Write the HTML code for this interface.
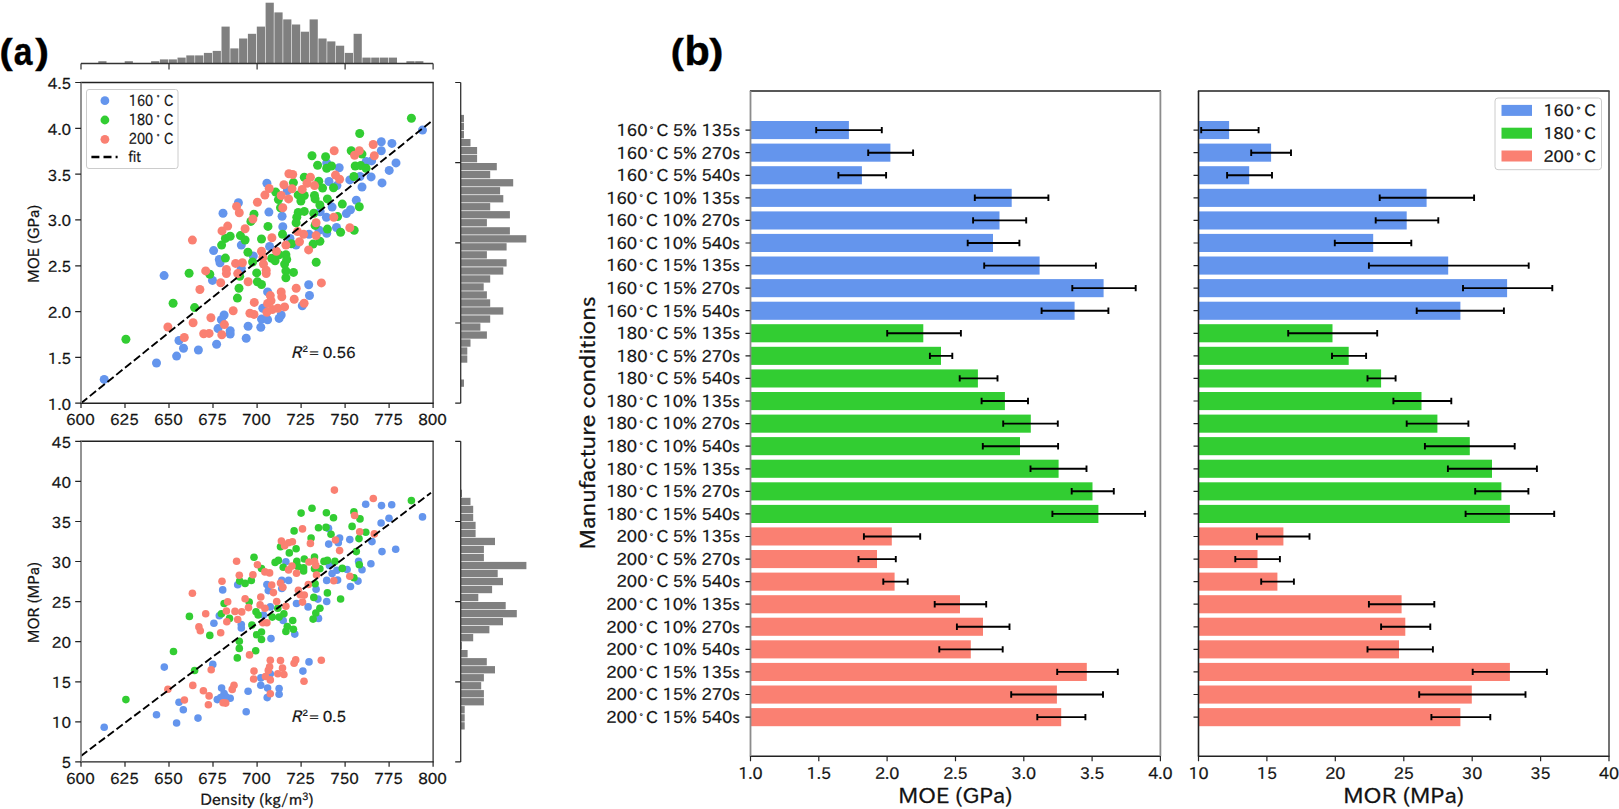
<!DOCTYPE html>
<html><head><meta charset="utf-8"><title>Figure</title>
<style>html,body{margin:0;padding:0;background:#fff;overflow:hidden}svg{display:block}svg text{stroke:#111;stroke-width:0.28px}svg .lbl text{stroke:#000;stroke-width:0.4px}</style></head>
<body><svg width="1619" height="809" viewBox="0 0 1619 809">
<rect width="1619" height="809" fill="#fff"/>
<g fill="#808080">
<rect x="98.3" y="61.2" width="8.2" height="2.3"/>
<rect x="124.7" y="61.2" width="8.2" height="2.3"/>
<rect x="151.1" y="61.2" width="8.2" height="2.3"/>
<rect x="159.9" y="59.4" width="8.2" height="4.1"/>
<rect x="168.7" y="59.4" width="8.2" height="4.1"/>
<rect x="177.5" y="57.6" width="8.2" height="5.9"/>
<rect x="186.3" y="55.4" width="8.2" height="8.1"/>
<rect x="195.1" y="55.4" width="8.2" height="8.1"/>
<rect x="203.9" y="52.9" width="8.2" height="10.6"/>
<rect x="212.7" y="50.9" width="8.2" height="12.6"/>
<rect x="221.5" y="26.6" width="8.2" height="36.9"/>
<rect x="230.3" y="48.4" width="8.2" height="15.1"/>
<rect x="239.1" y="38.5" width="8.2" height="25"/>
<rect x="247.9" y="33.8" width="8.2" height="29.7"/>
<rect x="256.8" y="26.6" width="8.2" height="36.9"/>
<rect x="265.6" y="2.7" width="8.2" height="60.8"/>
<rect x="274.4" y="12.4" width="8.2" height="51.1"/>
<rect x="283.2" y="19.4" width="8.2" height="44.1"/>
<rect x="292" y="24.5" width="8.2" height="39"/>
<rect x="300.8" y="31.7" width="8.2" height="31.8"/>
<rect x="309.6" y="19.4" width="8.2" height="44.1"/>
<rect x="318.4" y="38.5" width="8.2" height="25"/>
<rect x="327.2" y="41.4" width="8.2" height="22.1"/>
<rect x="336" y="45.7" width="8.2" height="17.8"/>
<rect x="344.8" y="52.9" width="8.2" height="10.6"/>
<rect x="353.6" y="33.8" width="8.2" height="29.7"/>
<rect x="362.4" y="57.6" width="8.2" height="5.9"/>
<rect x="371.2" y="57.6" width="8.2" height="5.9"/>
<rect x="380" y="57.6" width="8.2" height="5.9"/>
<rect x="388.8" y="57.6" width="8.2" height="5.9"/>
<rect x="406.4" y="61.2" width="8.2" height="2.3"/>
<rect x="415.2" y="61.2" width="8.2" height="2.3"/>
</g>
<path d="M81 63.5H433.1" stroke="#333" stroke-width="1.3"/>
<path d="M81 63.5v6M169 63.5v6M257.1 63.5v6M345.1 63.5v6M433.1 63.5v6" stroke="#333" stroke-width="1.2"/>
<g fill="#808080">
<rect x="460.7" y="114.9" width="3.3" height="7.3"/>
<rect x="460.7" y="122.9" width="3.3" height="7.3"/>
<rect x="460.7" y="131" width="3.3" height="7.3"/>
<rect x="460.7" y="139" width="9.8" height="7.3"/>
<rect x="460.7" y="147" width="16.4" height="7.3"/>
<rect x="460.7" y="155" width="16.4" height="7.3"/>
<rect x="460.7" y="163" width="36.1" height="7.3"/>
<rect x="460.7" y="171" width="29.5" height="7.3"/>
<rect x="460.7" y="179.1" width="52.5" height="7.3"/>
<rect x="460.7" y="187.1" width="39.4" height="7.3"/>
<rect x="460.7" y="195.1" width="42.6" height="7.3"/>
<rect x="460.7" y="203.1" width="29.5" height="7.3"/>
<rect x="460.7" y="211.1" width="49.2" height="7.3"/>
<rect x="460.7" y="219.1" width="26.2" height="7.3"/>
<rect x="460.7" y="227.2" width="49.2" height="7.3"/>
<rect x="460.7" y="235.2" width="65.6" height="7.3"/>
<rect x="460.7" y="243.2" width="45.9" height="7.3"/>
<rect x="460.7" y="251.2" width="26.2" height="7.3"/>
<rect x="460.7" y="259.2" width="45.9" height="7.3"/>
<rect x="460.7" y="267.3" width="42.6" height="7.3"/>
<rect x="460.7" y="275.3" width="29.5" height="7.3"/>
<rect x="460.7" y="283.3" width="23" height="7.3"/>
<rect x="460.7" y="291.3" width="26.2" height="7.3"/>
<rect x="460.7" y="299.3" width="29.5" height="7.3"/>
<rect x="460.7" y="307.3" width="42.6" height="7.3"/>
<rect x="460.7" y="315.4" width="29.5" height="7.3"/>
<rect x="460.7" y="323.4" width="19.7" height="7.3"/>
<rect x="460.7" y="331.4" width="26.2" height="7.3"/>
<rect x="460.7" y="339.4" width="9.8" height="7.3"/>
<rect x="460.7" y="347.4" width="6.6" height="7.3"/>
<rect x="460.7" y="355.4" width="6.6" height="7.3"/>
<rect x="460.7" y="379.5" width="3.3" height="7.3"/>
</g>
<path d="M460.7 82.5V403.2" stroke="#333" stroke-width="1.3"/>
<path d="M460.7 82.5h-5.5M460.7 162.7h-5.5M460.7 242.8h-5.5M460.7 323h-5.5M460.7 403.2h-5.5" stroke="#222" stroke-width="1.2"/>
<g fill="#808080">
<rect x="460.7" y="489.7" width="1.3" height="7.3"/>
<rect x="460.7" y="497.8" width="9.8" height="7.3"/>
<rect x="460.7" y="505.8" width="12.5" height="7.3"/>
<rect x="460.7" y="513.8" width="12.5" height="7.3"/>
<rect x="460.7" y="521.8" width="14.9" height="7.3"/>
<rect x="460.7" y="529.8" width="14.9" height="7.3"/>
<rect x="460.7" y="537.8" width="34.3" height="7.3"/>
<rect x="460.7" y="545.8" width="23.2" height="7.3"/>
<rect x="460.7" y="553.9" width="23.2" height="7.3"/>
<rect x="460.7" y="561.9" width="65.7" height="7.3"/>
<rect x="460.7" y="569.9" width="37" height="7.3"/>
<rect x="460.7" y="577.9" width="42.3" height="7.3"/>
<rect x="460.7" y="585.9" width="31.4" height="7.3"/>
<rect x="460.7" y="593.9" width="17.6" height="7.3"/>
<rect x="460.7" y="602" width="45" height="7.3"/>
<rect x="460.7" y="610" width="56.1" height="7.3"/>
<rect x="460.7" y="618" width="42.3" height="7.3"/>
<rect x="460.7" y="626" width="28.7" height="7.3"/>
<rect x="460.7" y="634" width="12.5" height="7.3"/>
<rect x="460.7" y="642" width="1.1" height="7.3"/>
<rect x="460.7" y="650" width="6.9" height="7.3"/>
<rect x="460.7" y="658.1" width="26.1" height="7.3"/>
<rect x="460.7" y="666.1" width="34.3" height="7.3"/>
<rect x="460.7" y="674.1" width="23.2" height="7.3"/>
<rect x="460.7" y="682.1" width="20.5" height="7.3"/>
<rect x="460.7" y="690.1" width="23.2" height="7.3"/>
<rect x="460.7" y="698.1" width="23.2" height="7.3"/>
<rect x="460.7" y="706.1" width="4" height="7.3"/>
<rect x="460.7" y="714.2" width="4" height="7.3"/>
<rect x="460.7" y="722.2" width="4" height="7.3"/>
</g>
<path d="M460.7 441.3V761.9" stroke="#333" stroke-width="1.3"/>
<path d="M460.7 441.3h-5.5M460.7 521.5h-5.5M460.7 601.6h-5.5M460.7 681.8h-5.5M460.7 761.9h-5.5" stroke="#222" stroke-width="1.2"/>
<g font-family='"IPAPGothic","Liberation Sans","Noto Sans CJK JP",sans-serif' font-size="15.2" fill="#111">
<clipPath id="c82"><rect x="81.0" y="82.5" width="352.1" height="320.7"/></clipPath>
<g clip-path="url(#c82)">
<g fill="#6495ed">
<circle cx="104.2" cy="379.4" r="4.5"/>
<circle cx="156.5" cy="363" r="4.5"/>
<circle cx="176.6" cy="356.1" r="4.5"/>
<circle cx="183.5" cy="348.3" r="4.5"/>
<circle cx="179" cy="340.5" r="4.5"/>
<circle cx="198.4" cy="350" r="4.5"/>
<circle cx="164.1" cy="275.6" r="4.5"/>
<circle cx="213.6" cy="250.6" r="4.5"/>
<circle cx="223" cy="213.2" r="4.5"/>
<circle cx="238.4" cy="202.7" r="4.5"/>
<circle cx="266.9" cy="183.3" r="4.5"/>
<circle cx="268.9" cy="212.1" r="4.5"/>
<circle cx="282.1" cy="216.2" r="4.5"/>
<circle cx="282.8" cy="226.8" r="4.5"/>
<circle cx="241.3" cy="245.1" r="4.5"/>
<circle cx="269.6" cy="246.5" r="4.5"/>
<circle cx="253.3" cy="256" r="4.5"/>
<circle cx="287.3" cy="190.8" r="4.5"/>
<circle cx="219.3" cy="259.4" r="4.5"/>
<circle cx="381.3" cy="150.7" r="4.5"/>
<circle cx="396" cy="162.9" r="4.5"/>
<circle cx="389.2" cy="170.4" r="4.5"/>
<circle cx="382" cy="182.9" r="4.5"/>
<circle cx="371.1" cy="176.9" r="4.5"/>
<circle cx="366.1" cy="161.6" r="4.5"/>
<circle cx="371.6" cy="160.9" r="4.5"/>
<circle cx="339.2" cy="167.7" r="4.5"/>
<circle cx="326.7" cy="162.9" r="4.5"/>
<circle cx="329" cy="181.5" r="4.5"/>
<circle cx="336.9" cy="185.6" r="4.5"/>
<circle cx="349.8" cy="179.9" r="4.5"/>
<circle cx="360" cy="176.5" r="4.5"/>
<circle cx="362" cy="187" r="4.5"/>
<circle cx="356.3" cy="200.3" r="4.5"/>
<circle cx="332.1" cy="207.1" r="4.5"/>
<circle cx="350.5" cy="209.8" r="4.5"/>
<circle cx="346.4" cy="213.6" r="4.5"/>
<circle cx="320.2" cy="211.8" r="4.5"/>
<circle cx="326.4" cy="217.3" r="4.5"/>
<circle cx="336.5" cy="227.5" r="4.5"/>
<circle cx="326.7" cy="233.2" r="4.5"/>
<circle cx="319.2" cy="230.2" r="4.5"/>
<circle cx="309" cy="234.3" r="4.5"/>
<circle cx="296.1" cy="245.1" r="4.5"/>
<circle cx="290" cy="238.4" r="4.5"/>
<circle cx="422.5" cy="130.1" r="4.5"/>
<circle cx="381.3" cy="141.8" r="4.5"/>
<circle cx="391.9" cy="143.4" r="4.5"/>
<circle cx="216.6" cy="344.3" r="4.5"/>
<circle cx="230.2" cy="334.1" r="4.5"/>
<circle cx="230.2" cy="330.7" r="4.5"/>
<circle cx="218" cy="328.6" r="4.5"/>
<circle cx="224.1" cy="315" r="4.5"/>
<circle cx="221.4" cy="319.8" r="4.5"/>
<circle cx="246.2" cy="338.2" r="4.5"/>
<circle cx="248.1" cy="326.2" r="4.5"/>
<circle cx="260.8" cy="327.3" r="4.5"/>
<circle cx="261.5" cy="319.1" r="4.5"/>
<circle cx="267.6" cy="319.8" r="4.5"/>
<circle cx="279.1" cy="318.4" r="4.5"/>
<circle cx="281.2" cy="315" r="4.5"/>
<circle cx="267.6" cy="291.9" r="4.5"/>
<circle cx="212.5" cy="280.4" r="4.5"/>
<circle cx="220" cy="262.7" r="4.5"/>
<circle cx="241.3" cy="268.2" r="4.5"/>
<circle cx="262.8" cy="308.3" r="4.5"/>
<circle cx="308.7" cy="284.7" r="4.5"/>
<circle cx="309.5" cy="295.5" r="4.5"/>
<circle cx="302.3" cy="305.7" r="4.5"/>
</g>
<g fill="#32cd32">
<circle cx="125.9" cy="339.3" r="4.5"/>
<circle cx="173.1" cy="303.3" r="4.5"/>
<circle cx="225.4" cy="238.4" r="4.5"/>
<circle cx="230.2" cy="236.3" r="4.5"/>
<circle cx="221.6" cy="245.1" r="4.5"/>
<circle cx="240.4" cy="235.6" r="4.5"/>
<circle cx="245.1" cy="240" r="4.5"/>
<circle cx="247.9" cy="252.2" r="4.5"/>
<circle cx="261.5" cy="239" r="4.5"/>
<circle cx="268" cy="226.4" r="4.5"/>
<circle cx="254" cy="214.2" r="4.5"/>
<circle cx="250.9" cy="221.4" r="4.5"/>
<circle cx="275.7" cy="192.1" r="4.5"/>
<circle cx="278.4" cy="199.6" r="4.5"/>
<circle cx="282.5" cy="234.3" r="4.5"/>
<circle cx="225.4" cy="258.1" r="4.5"/>
<circle cx="280.5" cy="207.8" r="4.5"/>
<circle cx="279.1" cy="254.7" r="4.5"/>
<circle cx="285.9" cy="254.7" r="4.5"/>
<circle cx="312" cy="155.7" r="4.5"/>
<circle cx="325.6" cy="156.8" r="4.5"/>
<circle cx="317.6" cy="165.2" r="4.5"/>
<circle cx="326.7" cy="168.3" r="4.5"/>
<circle cx="331.5" cy="166" r="4.5"/>
<circle cx="304.3" cy="177.2" r="4.5"/>
<circle cx="318.8" cy="181.3" r="4.5"/>
<circle cx="293.4" cy="182.6" r="4.5"/>
<circle cx="322.6" cy="188.1" r="4.5"/>
<circle cx="333.5" cy="187.8" r="4.5"/>
<circle cx="298.2" cy="194.9" r="4.5"/>
<circle cx="304.3" cy="195.5" r="4.5"/>
<circle cx="300.9" cy="201" r="4.5"/>
<circle cx="314.5" cy="195.5" r="4.5"/>
<circle cx="315.1" cy="198.9" r="4.5"/>
<circle cx="319.9" cy="205" r="4.5"/>
<circle cx="327.4" cy="198.9" r="4.5"/>
<circle cx="342.3" cy="204.1" r="4.5"/>
<circle cx="359.3" cy="206.8" r="4.5"/>
<circle cx="298.2" cy="212.5" r="4.5"/>
<circle cx="304.3" cy="211.4" r="4.5"/>
<circle cx="296.8" cy="217.3" r="4.5"/>
<circle cx="296.1" cy="222.7" r="4.5"/>
<circle cx="313.8" cy="213.2" r="4.5"/>
<circle cx="315.1" cy="225.4" r="4.5"/>
<circle cx="327.4" cy="229.1" r="4.5"/>
<circle cx="340.6" cy="232.2" r="4.5"/>
<circle cx="354.2" cy="230.2" r="4.5"/>
<circle cx="337.6" cy="216.6" r="4.5"/>
<circle cx="319.9" cy="241.3" r="4.5"/>
<circle cx="313.1" cy="244.1" r="4.5"/>
<circle cx="353.9" cy="176.5" r="4.5"/>
<circle cx="355.2" cy="166" r="4.5"/>
<circle cx="360.7" cy="165.6" r="4.5"/>
<circle cx="366.1" cy="168.3" r="4.5"/>
<circle cx="362" cy="154.1" r="4.5"/>
<circle cx="351.2" cy="150.7" r="4.5"/>
<circle cx="291.4" cy="243.8" r="4.5"/>
<circle cx="411.4" cy="118.3" r="4.5"/>
<circle cx="359.7" cy="133.5" r="4.5"/>
<circle cx="189.1" cy="273.2" r="4.5"/>
<circle cx="194.6" cy="307.6" r="4.5"/>
<circle cx="209.8" cy="274.3" r="4.5"/>
<circle cx="239" cy="288.3" r="4.5"/>
<circle cx="237.4" cy="298.1" r="4.5"/>
<circle cx="239.7" cy="276.3" r="4.5"/>
<circle cx="256.7" cy="272.9" r="4.5"/>
<circle cx="257.4" cy="281.7" r="4.5"/>
<circle cx="261.5" cy="284.5" r="4.5"/>
<circle cx="252.6" cy="262" r="4.5"/>
<circle cx="285.9" cy="277.7" r="4.5"/>
<circle cx="285.9" cy="270.9" r="4.5"/>
<circle cx="284.6" cy="264.1" r="4.5"/>
<circle cx="275.1" cy="260.7" r="4.5"/>
<circle cx="316.2" cy="262.2" r="4.5"/>
<circle cx="293.5" cy="272.4" r="4.5"/>
<circle cx="286.7" cy="259.5" r="4.5"/>
<circle cx="271.7" cy="258.2" r="4.5"/>
</g>
<g fill="#fa8072">
<circle cx="167.9" cy="327" r="4.5"/>
<circle cx="192.4" cy="240.1" r="4.5"/>
<circle cx="222" cy="230.9" r="4.5"/>
<circle cx="227.7" cy="226.1" r="4.5"/>
<circle cx="245.1" cy="228.8" r="4.5"/>
<circle cx="252.9" cy="219" r="4.5"/>
<circle cx="239.3" cy="212.8" r="4.5"/>
<circle cx="236.6" cy="206.4" r="4.5"/>
<circle cx="257.4" cy="202.3" r="4.5"/>
<circle cx="264.9" cy="195.1" r="4.5"/>
<circle cx="269.2" cy="188.5" r="4.5"/>
<circle cx="281.2" cy="195.5" r="4.5"/>
<circle cx="283.9" cy="184.7" r="4.5"/>
<circle cx="288.9" cy="173.8" r="4.5"/>
<circle cx="282.8" cy="207.8" r="4.5"/>
<circle cx="271.9" cy="237.7" r="4.5"/>
<circle cx="285.9" cy="245.1" r="4.5"/>
<circle cx="276.4" cy="251.3" r="4.5"/>
<circle cx="261.5" cy="251.3" r="4.5"/>
<circle cx="288.6" cy="198.9" r="4.5"/>
<circle cx="334.2" cy="150.7" r="4.5"/>
<circle cx="292.7" cy="174.5" r="4.5"/>
<circle cx="310.4" cy="177.2" r="4.5"/>
<circle cx="307" cy="183.3" r="4.5"/>
<circle cx="314.5" cy="185.6" r="4.5"/>
<circle cx="302.2" cy="189.4" r="4.5"/>
<circle cx="292" cy="188.7" r="4.5"/>
<circle cx="335.5" cy="175.1" r="4.5"/>
<circle cx="339.6" cy="179.2" r="4.5"/>
<circle cx="354.6" cy="155.2" r="4.5"/>
<circle cx="374.3" cy="155.7" r="4.5"/>
<circle cx="359.3" cy="150.7" r="4.5"/>
<circle cx="333.8" cy="217.3" r="4.5"/>
<circle cx="316.1" cy="222.7" r="4.5"/>
<circle cx="316.1" cy="235.6" r="4.5"/>
<circle cx="349.8" cy="227.7" r="4.5"/>
<circle cx="303.6" cy="234.3" r="4.5"/>
<circle cx="297.5" cy="231.6" r="4.5"/>
<circle cx="299.5" cy="241.7" r="4.5"/>
<circle cx="308.6" cy="249.9" r="4.5"/>
<circle cx="373.2" cy="144.5" r="4.5"/>
<circle cx="184.3" cy="337.5" r="4.5"/>
<circle cx="193.1" cy="322.8" r="4.5"/>
<circle cx="203.7" cy="333.8" r="4.5"/>
<circle cx="209.1" cy="333.4" r="4.5"/>
<circle cx="210.9" cy="317.8" r="4.5"/>
<circle cx="221.8" cy="334.8" r="4.5"/>
<circle cx="224.4" cy="324.6" r="4.5"/>
<circle cx="233.2" cy="310.7" r="4.5"/>
<circle cx="249.9" cy="313.3" r="4.5"/>
<circle cx="254" cy="314.4" r="4.5"/>
<circle cx="254.3" cy="302.4" r="4.5"/>
<circle cx="199.9" cy="289.5" r="4.5"/>
<circle cx="205.7" cy="270.9" r="4.5"/>
<circle cx="220.7" cy="282.7" r="4.5"/>
<circle cx="226.4" cy="269.5" r="4.5"/>
<circle cx="226.4" cy="273.6" r="4.5"/>
<circle cx="237.7" cy="273.6" r="4.5"/>
<circle cx="248.1" cy="281.7" r="4.5"/>
<circle cx="235.6" cy="263.4" r="4.5"/>
<circle cx="242.4" cy="262.7" r="4.5"/>
<circle cx="263.5" cy="264.1" r="4.5"/>
<circle cx="266.2" cy="270.2" r="4.5"/>
<circle cx="266.2" cy="273.6" r="4.5"/>
<circle cx="270.3" cy="295.6" r="4.5"/>
<circle cx="267.6" cy="303.5" r="4.5"/>
<circle cx="271" cy="300.8" r="4.5"/>
<circle cx="266.9" cy="312.3" r="4.5"/>
<circle cx="272.3" cy="309.6" r="4.5"/>
<circle cx="277.8" cy="308.3" r="4.5"/>
<circle cx="284.6" cy="306.9" r="4.5"/>
<circle cx="281.2" cy="291.9" r="4.5"/>
<circle cx="281.8" cy="296.7" r="4.5"/>
<circle cx="321.4" cy="282.9" r="4.5"/>
<circle cx="296.2" cy="288.3" r="4.5"/>
<circle cx="294.2" cy="299.2" r="4.5"/>
<circle cx="304.1" cy="303.3" r="4.5"/>
<circle cx="262.9" cy="257.5" r="4.5"/>
</g>
<path d="M81 403.2L431.5 121.2" stroke="#000" stroke-width="1.9" stroke-dasharray="8 3.3" fill="none"/>
</g>
<path d="M80.4 82.5H433.7M80.4 403.2H433.7" stroke="#222" stroke-width="1.4" fill="none"/>
<path d="M81 82.5V403.2" stroke="#808080" stroke-width="1.7" fill="none"/>
<path d="M433.1 82.5V403.2" stroke="#222" stroke-width="1.2" fill="none"/>
<text x="71" y="88.9" text-anchor="end" textLength="23.16" lengthAdjust="spacingAndGlyphs">4.5</text>
<text x="71" y="134.7" text-anchor="end" textLength="23.16" lengthAdjust="spacingAndGlyphs">4.0</text>
<text x="71" y="180.5" text-anchor="end" textLength="23.16" lengthAdjust="spacingAndGlyphs">3.5</text>
<text x="71" y="226.3" text-anchor="end" textLength="23.16" lengthAdjust="spacingAndGlyphs">3.0</text>
<text x="71" y="272.2" text-anchor="end" textLength="23.16" lengthAdjust="spacingAndGlyphs">2.5</text>
<text x="71" y="318" text-anchor="end" textLength="23.16" lengthAdjust="spacingAndGlyphs">2.0</text>
<text x="71" y="363.8" text-anchor="end" textLength="23.16" lengthAdjust="spacingAndGlyphs">1.5</text>
<text x="71" y="409.6" text-anchor="end" textLength="23.16" lengthAdjust="spacingAndGlyphs">1.0</text>
<text x="80.4" y="424.9" text-anchor="middle" textLength="28.70" lengthAdjust="spacingAndGlyphs">600</text>
<text x="124.4" y="424.9" text-anchor="middle" textLength="28.70" lengthAdjust="spacingAndGlyphs">625</text>
<text x="168.4" y="424.9" text-anchor="middle" textLength="28.70" lengthAdjust="spacingAndGlyphs">650</text>
<text x="212.4" y="424.9" text-anchor="middle" textLength="28.70" lengthAdjust="spacingAndGlyphs">675</text>
<text x="256.4" y="424.9" text-anchor="middle" textLength="28.70" lengthAdjust="spacingAndGlyphs">700</text>
<text x="300.5" y="424.9" text-anchor="middle" textLength="28.70" lengthAdjust="spacingAndGlyphs">725</text>
<text x="344.5" y="424.9" text-anchor="middle" textLength="28.70" lengthAdjust="spacingAndGlyphs">750</text>
<text x="388.5" y="424.9" text-anchor="middle" textLength="28.70" lengthAdjust="spacingAndGlyphs">775</text>
<text x="432.5" y="424.9" text-anchor="middle" textLength="28.70" lengthAdjust="spacingAndGlyphs">800</text>
<path d="M81.0 82.5h-5.8M81.0 128.3h-5.8M81.0 174.1h-5.8M81.0 219.9h-5.8M81.0 265.8h-5.8M81.0 311.6h-5.8M81.0 357.4h-5.8M81.0 403.2h-5.8M81 403.2v4.9M125 403.2v4.9M169 403.2v4.9M213 403.2v4.9M257.1 403.2v4.9M301.1 403.2v4.9M345.1 403.2v4.9M389.1 403.2v4.9M433.1 403.2v4.9" stroke="#222" stroke-width="1.2"/>
<text transform="translate(38.9 243.8) rotate(-90)" text-anchor="middle" font-size="15.2" textLength="78.28" lengthAdjust="spacingAndGlyphs">MOE (GPa)</text>
<text x="290.8" y="357.5" font-style="italic" font-size="16">R</text>
<text x="302.6" y="351.5" font-size="8.5">2</text>
<text x="309.2" y="357.5">=</text>
<text x="322.8" y="357.5" textLength="32.72" lengthAdjust="spacingAndGlyphs">0.56</text>
<clipPath id="c441"><rect x="81.0" y="441.3" width="352.1" height="320.6"/></clipPath>
<g clip-path="url(#c441)">
<g fill="#6495ed">
<circle cx="104.2" cy="727.3" r="3.8"/>
<circle cx="156.5" cy="714.7" r="3.8"/>
<circle cx="164.3" cy="667.1" r="3.8"/>
<circle cx="176.6" cy="723" r="3.8"/>
<circle cx="183.3" cy="709.7" r="3.8"/>
<circle cx="179" cy="702.2" r="3.8"/>
<circle cx="198" cy="718.1" r="3.8"/>
<circle cx="285.9" cy="561.7" r="3.8"/>
<circle cx="222.7" cy="589.9" r="3.8"/>
<circle cx="237.7" cy="584.7" r="3.8"/>
<circle cx="213.9" cy="623.2" r="3.8"/>
<circle cx="219.3" cy="615.7" r="3.8"/>
<circle cx="241.3" cy="624.6" r="3.8"/>
<circle cx="241.3" cy="628" r="3.8"/>
<circle cx="271" cy="638.6" r="3.8"/>
<circle cx="266.9" cy="584.5" r="3.8"/>
<circle cx="268.3" cy="590.6" r="3.8"/>
<circle cx="281.8" cy="580.4" r="3.8"/>
<circle cx="288.6" cy="580.4" r="3.8"/>
<circle cx="270.3" cy="606.9" r="3.8"/>
<circle cx="283.2" cy="620.5" r="3.8"/>
<circle cx="263.5" cy="615" r="3.8"/>
<circle cx="212.8" cy="664.4" r="3.8"/>
<circle cx="281.8" cy="588.5" r="3.8"/>
<circle cx="370.9" cy="563.8" r="3.8"/>
<circle cx="362" cy="569.8" r="3.8"/>
<circle cx="358.6" cy="561.4" r="3.8"/>
<circle cx="347.1" cy="569.5" r="3.8"/>
<circle cx="336.9" cy="570.2" r="3.8"/>
<circle cx="332.1" cy="573.6" r="3.8"/>
<circle cx="329.4" cy="565.4" r="3.8"/>
<circle cx="326.7" cy="580.4" r="3.8"/>
<circle cx="337.6" cy="580.1" r="3.8"/>
<circle cx="350.5" cy="586.5" r="3.8"/>
<circle cx="358" cy="581.1" r="3.8"/>
<circle cx="316.1" cy="589.2" r="3.8"/>
<circle cx="317.9" cy="599.1" r="3.8"/>
<circle cx="326.7" cy="601.5" r="3.8"/>
<circle cx="308.1" cy="606.9" r="3.8"/>
<circle cx="296.5" cy="603.5" r="3.8"/>
<circle cx="318.5" cy="618.4" r="3.8"/>
<circle cx="294.8" cy="634.1" r="3.8"/>
<circle cx="309" cy="661.9" r="3.8"/>
<circle cx="365.7" cy="504.3" r="3.8"/>
<circle cx="381.5" cy="505.6" r="3.8"/>
<circle cx="391.7" cy="504.7" r="3.8"/>
<circle cx="422.5" cy="516.9" r="3.8"/>
<circle cx="389" cy="518.3" r="3.8"/>
<circle cx="381.1" cy="523" r="3.8"/>
<circle cx="328.5" cy="528.4" r="3.8"/>
<circle cx="339.6" cy="538" r="3.8"/>
<circle cx="338.3" cy="542.7" r="3.8"/>
<circle cx="349.8" cy="539.6" r="3.8"/>
<circle cx="328.7" cy="544.1" r="3.8"/>
<circle cx="372" cy="541.6" r="3.8"/>
<circle cx="382" cy="551.6" r="3.8"/>
<circle cx="395.7" cy="549.2" r="3.8"/>
<circle cx="246.2" cy="711.8" r="3.8"/>
<circle cx="248.1" cy="691.2" r="3.8"/>
<circle cx="221.6" cy="688.1" r="3.8"/>
<circle cx="224.1" cy="693.5" r="3.8"/>
<circle cx="217.3" cy="699.6" r="3.8"/>
<circle cx="230.2" cy="698.3" r="3.8"/>
<circle cx="260.8" cy="677.9" r="3.8"/>
<circle cx="260.8" cy="685.3" r="3.8"/>
<circle cx="267.6" cy="688.1" r="3.8"/>
<circle cx="267.2" cy="697.6" r="3.8"/>
<circle cx="279.1" cy="688.5" r="3.8"/>
<circle cx="279.1" cy="694.2" r="3.8"/>
<circle cx="270.3" cy="673.8" r="3.8"/>
<circle cx="226.1" cy="696.9" r="3.8"/>
<circle cx="220.7" cy="697.6" r="3.8"/>
<circle cx="302.9" cy="671.1" r="3.8"/>
</g>
<g fill="#32cd32">
<circle cx="125.9" cy="699.6" r="3.8"/>
<circle cx="173.5" cy="651.5" r="3.8"/>
<circle cx="194.6" cy="670.5" r="3.8"/>
<circle cx="254" cy="557.3" r="3.8"/>
<circle cx="261.5" cy="568.5" r="3.8"/>
<circle cx="280.5" cy="546.8" r="3.8"/>
<circle cx="275.1" cy="562.4" r="3.8"/>
<circle cx="278.4" cy="560.4" r="3.8"/>
<circle cx="283.2" cy="567.2" r="3.8"/>
<circle cx="289.3" cy="552.9" r="3.8"/>
<circle cx="189.4" cy="616.4" r="3.8"/>
<circle cx="209.8" cy="635.4" r="3.8"/>
<circle cx="239.7" cy="581.1" r="3.8"/>
<circle cx="245.1" cy="583.4" r="3.8"/>
<circle cx="251.3" cy="580.4" r="3.8"/>
<circle cx="224.1" cy="603.5" r="3.8"/>
<circle cx="249.2" cy="602.1" r="3.8"/>
<circle cx="221.4" cy="613.7" r="3.8"/>
<circle cx="229.5" cy="618.4" r="3.8"/>
<circle cx="256" cy="611.7" r="3.8"/>
<circle cx="258.1" cy="615" r="3.8"/>
<circle cx="251.9" cy="625" r="3.8"/>
<circle cx="256.7" cy="634.8" r="3.8"/>
<circle cx="261.5" cy="632" r="3.8"/>
<circle cx="261.5" cy="639.5" r="3.8"/>
<circle cx="239.3" cy="641.3" r="3.8"/>
<circle cx="239.3" cy="648.4" r="3.8"/>
<circle cx="255.7" cy="650.8" r="3.8"/>
<circle cx="237.3" cy="657.9" r="3.8"/>
<circle cx="272.3" cy="617.1" r="3.8"/>
<circle cx="279.1" cy="617.1" r="3.8"/>
<circle cx="283.9" cy="613.7" r="3.8"/>
<circle cx="277.8" cy="608.3" r="3.8"/>
<circle cx="285.9" cy="631.4" r="3.8"/>
<circle cx="287.3" cy="626.6" r="3.8"/>
<circle cx="359.3" cy="564.8" r="3.8"/>
<circle cx="342.3" cy="568.4" r="3.8"/>
<circle cx="353.9" cy="577.7" r="3.8"/>
<circle cx="327.4" cy="592.9" r="3.8"/>
<circle cx="340.6" cy="599" r="3.8"/>
<circle cx="313.8" cy="597.4" r="3.8"/>
<circle cx="315.1" cy="583.8" r="3.8"/>
<circle cx="319.9" cy="608.3" r="3.8"/>
<circle cx="315.8" cy="613" r="3.8"/>
<circle cx="313.1" cy="619.1" r="3.8"/>
<circle cx="292.7" cy="620.5" r="3.8"/>
<circle cx="293.4" cy="629.3" r="3.8"/>
<circle cx="303.6" cy="570.9" r="3.8"/>
<circle cx="298.2" cy="566.8" r="3.8"/>
<circle cx="314.5" cy="568.8" r="3.8"/>
<circle cx="319.9" cy="568.8" r="3.8"/>
<circle cx="296.8" cy="561.4" r="3.8"/>
<circle cx="324" cy="561.4" r="3.8"/>
<circle cx="334.9" cy="561.4" r="3.8"/>
<circle cx="411.4" cy="500.6" r="3.8"/>
<circle cx="312" cy="508.3" r="3.8"/>
<circle cx="301.1" cy="513.1" r="3.8"/>
<circle cx="326.4" cy="512.8" r="3.8"/>
<circle cx="333.5" cy="517.8" r="3.8"/>
<circle cx="353.9" cy="511.9" r="3.8"/>
<circle cx="360" cy="518.9" r="3.8"/>
<circle cx="352.1" cy="526.4" r="3.8"/>
<circle cx="318.5" cy="527.8" r="3.8"/>
<circle cx="326" cy="527.4" r="3.8"/>
<circle cx="294.1" cy="530.9" r="3.8"/>
<circle cx="331" cy="534.2" r="3.8"/>
<circle cx="311.1" cy="538" r="3.8"/>
<circle cx="365.8" cy="532.3" r="3.8"/>
<circle cx="359" cy="538.6" r="3.8"/>
<circle cx="356.3" cy="551.6" r="3.8"/>
<circle cx="296.1" cy="548.8" r="3.8"/>
<circle cx="304.3" cy="559" r="3.8"/>
<circle cx="314.5" cy="557" r="3.8"/>
<circle cx="327.4" cy="560.4" r="3.8"/>
<circle cx="303.6" cy="567.9" r="3.8"/>
</g>
<g fill="#fa8072">
<circle cx="167.9" cy="689.2" r="3.8"/>
<circle cx="184.4" cy="700" r="3.8"/>
<circle cx="192.8" cy="685.4" r="3.8"/>
<circle cx="236.6" cy="561.3" r="3.8"/>
<circle cx="257.4" cy="564.7" r="3.8"/>
<circle cx="264.9" cy="571.9" r="3.8"/>
<circle cx="269.6" cy="572.9" r="3.8"/>
<circle cx="239.3" cy="575.3" r="3.8"/>
<circle cx="252.9" cy="574.7" r="3.8"/>
<circle cx="281.4" cy="541" r="3.8"/>
<circle cx="284.6" cy="545.8" r="3.8"/>
<circle cx="288.6" cy="542.7" r="3.8"/>
<circle cx="288.6" cy="569.9" r="3.8"/>
<circle cx="222" cy="581.3" r="3.8"/>
<circle cx="192.4" cy="593.3" r="3.8"/>
<circle cx="227.7" cy="601.7" r="3.8"/>
<circle cx="245.1" cy="598.7" r="3.8"/>
<circle cx="260.8" cy="597" r="3.8"/>
<circle cx="276.7" cy="601.5" r="3.8"/>
<circle cx="260.1" cy="604.9" r="3.8"/>
<circle cx="264.9" cy="608.3" r="3.8"/>
<circle cx="248.5" cy="607.6" r="3.8"/>
<circle cx="226.4" cy="611" r="3.8"/>
<circle cx="235" cy="611.4" r="3.8"/>
<circle cx="241.7" cy="611.9" r="3.8"/>
<circle cx="205.7" cy="613.7" r="3.8"/>
<circle cx="237.7" cy="619.5" r="3.8"/>
<circle cx="226.8" cy="621.8" r="3.8"/>
<circle cx="198.9" cy="626.9" r="3.8"/>
<circle cx="200.3" cy="630.7" r="3.8"/>
<circle cx="220.7" cy="632.7" r="3.8"/>
<circle cx="262.8" cy="622.8" r="3.8"/>
<circle cx="266.9" cy="622.8" r="3.8"/>
<circle cx="271.7" cy="585.1" r="3.8"/>
<circle cx="273.4" cy="592.6" r="3.8"/>
<circle cx="280.5" cy="583.1" r="3.8"/>
<circle cx="282.9" cy="587.2" r="3.8"/>
<circle cx="285.9" cy="606.2" r="3.8"/>
<circle cx="249.5" cy="654.9" r="3.8"/>
<circle cx="270.3" cy="660.3" r="3.8"/>
<circle cx="280.5" cy="660.6" r="3.8"/>
<circle cx="269.6" cy="666.7" r="3.8"/>
<circle cx="282.5" cy="668.1" r="3.8"/>
<circle cx="349.8" cy="576.3" r="3.8"/>
<circle cx="333.8" cy="580.7" r="3.8"/>
<circle cx="316.5" cy="575" r="3.8"/>
<circle cx="315.8" cy="565.4" r="3.8"/>
<circle cx="309" cy="562" r="3.8"/>
<circle cx="296.5" cy="573.3" r="3.8"/>
<circle cx="292" cy="566.1" r="3.8"/>
<circle cx="308.3" cy="584.5" r="3.8"/>
<circle cx="298.4" cy="590.2" r="3.8"/>
<circle cx="300.2" cy="594.7" r="3.8"/>
<circle cx="304.3" cy="595.1" r="3.8"/>
<circle cx="302.5" cy="602.1" r="3.8"/>
<circle cx="295.7" cy="659.9" r="3.8"/>
<circle cx="294.1" cy="663.3" r="3.8"/>
<circle cx="321.3" cy="660.2" r="3.8"/>
<circle cx="334.4" cy="490.1" r="3.8"/>
<circle cx="373.3" cy="498.5" r="3.8"/>
<circle cx="354.6" cy="515.5" r="3.8"/>
<circle cx="302.5" cy="528.9" r="3.8"/>
<circle cx="359.7" cy="531.8" r="3.8"/>
<circle cx="374.3" cy="533.9" r="3.8"/>
<circle cx="335.5" cy="540" r="3.8"/>
<circle cx="310.4" cy="543.4" r="3.8"/>
<circle cx="339.6" cy="550.6" r="3.8"/>
<circle cx="292.4" cy="541.8" r="3.8"/>
<circle cx="314.5" cy="561.3" r="3.8"/>
<circle cx="203.4" cy="690.8" r="3.8"/>
<circle cx="209.1" cy="695.9" r="3.8"/>
<circle cx="208.4" cy="704.8" r="3.8"/>
<circle cx="223.1" cy="702.7" r="3.8"/>
<circle cx="232.2" cy="689.4" r="3.8"/>
<circle cx="234" cy="685.3" r="3.8"/>
<circle cx="254" cy="671.1" r="3.8"/>
<circle cx="253.6" cy="679" r="3.8"/>
<circle cx="268.3" cy="670.4" r="3.8"/>
<circle cx="265.5" cy="676.5" r="3.8"/>
<circle cx="270.3" cy="679.9" r="3.8"/>
<circle cx="270.3" cy="693.8" r="3.8"/>
<circle cx="277.8" cy="673.8" r="3.8"/>
<circle cx="283.9" cy="674.5" r="3.8"/>
<circle cx="211.2" cy="669.7" r="3.8"/>
<circle cx="225.7" cy="703.1" r="3.8"/>
<circle cx="304" cy="681.3" r="3.8"/>
</g>
<path d="M81 755.9L431 492.7" stroke="#000" stroke-width="1.9" stroke-dasharray="7.8 3.3" fill="none"/>
</g>
<path d="M80.4 441.3H433.7M80.4 761.9H433.7" stroke="#222" stroke-width="1.4" fill="none"/>
<path d="M81 441.3V761.9" stroke="#808080" stroke-width="1.7" fill="none"/>
<path d="M433.1 441.3V761.9" stroke="#222" stroke-width="1.2" fill="none"/>
<text x="71" y="447.7" text-anchor="end" textLength="19.14" lengthAdjust="spacingAndGlyphs">45</text>
<text x="71" y="487.8" text-anchor="end" textLength="19.14" lengthAdjust="spacingAndGlyphs">40</text>
<text x="71" y="527.9" text-anchor="end" textLength="19.14" lengthAdjust="spacingAndGlyphs">35</text>
<text x="71" y="567.9" text-anchor="end" textLength="19.14" lengthAdjust="spacingAndGlyphs">30</text>
<text x="71" y="608" text-anchor="end" textLength="19.14" lengthAdjust="spacingAndGlyphs">25</text>
<text x="71" y="648.1" text-anchor="end" textLength="19.14" lengthAdjust="spacingAndGlyphs">20</text>
<text x="71" y="688.1" text-anchor="end" textLength="19.14" lengthAdjust="spacingAndGlyphs">15</text>
<text x="71" y="728.2" text-anchor="end" textLength="19.14" lengthAdjust="spacingAndGlyphs">10</text>
<text x="71" y="768.3" text-anchor="end">5</text>
<text x="80.4" y="783.6" text-anchor="middle" textLength="28.70" lengthAdjust="spacingAndGlyphs">600</text>
<text x="124.4" y="783.6" text-anchor="middle" textLength="28.70" lengthAdjust="spacingAndGlyphs">625</text>
<text x="168.4" y="783.6" text-anchor="middle" textLength="28.70" lengthAdjust="spacingAndGlyphs">650</text>
<text x="212.4" y="783.6" text-anchor="middle" textLength="28.70" lengthAdjust="spacingAndGlyphs">675</text>
<text x="256.4" y="783.6" text-anchor="middle" textLength="28.70" lengthAdjust="spacingAndGlyphs">700</text>
<text x="300.5" y="783.6" text-anchor="middle" textLength="28.70" lengthAdjust="spacingAndGlyphs">725</text>
<text x="344.5" y="783.6" text-anchor="middle" textLength="28.70" lengthAdjust="spacingAndGlyphs">750</text>
<text x="388.5" y="783.6" text-anchor="middle" textLength="28.70" lengthAdjust="spacingAndGlyphs">775</text>
<text x="432.5" y="783.6" text-anchor="middle" textLength="28.70" lengthAdjust="spacingAndGlyphs">800</text>
<path d="M81.0 441.3h-5.8M81.0 481.4h-5.8M81.0 521.5h-5.8M81.0 561.5h-5.8M81.0 601.6h-5.8M81.0 641.7h-5.8M81.0 681.8h-5.8M81.0 721.8h-5.8M81.0 761.9h-5.8M81 761.9v4.9M125 761.9v4.9M169 761.9v4.9M213 761.9v4.9M257.1 761.9v4.9M301.1 761.9v4.9M345.1 761.9v4.9M389.1 761.9v4.9M433.1 761.9v4.9" stroke="#222" stroke-width="1.2"/>
<text transform="translate(38.9 602.6) rotate(-90)" text-anchor="middle" font-size="15.2" textLength="81.34" lengthAdjust="spacingAndGlyphs">MOR (MPa)</text>
<text x="290.8" y="722.1" font-style="italic" font-size="16">R</text>
<text x="302.6" y="716.1" font-size="8.5">2</text>
<text x="309.2" y="722.1">=</text>
<text x="322.8" y="722.1" textLength="23.16" lengthAdjust="spacingAndGlyphs">0.5</text>
<text x="200.2" y="805" font-size="15.6" textLength="102.11" lengthAdjust="spacingAndGlyphs">Density (kg/m</text>
<text x="302.32" y="800" font-size="10">3</text>
<text x="308.62" y="805" font-size="15.6">)</text>
<rect x="86.5" y="89.5" width="91.5" height="79" rx="2.5" fill="#fff" stroke="#ccc" stroke-width="1"/>
<circle cx="104.9" cy="100.7" r="4.4" fill="#6495ed"/>
<g transform="translate(128.8 105.6) scale(0.84 1)" font-size="15.3"><text textLength="28.88" lengthAdjust="spacingAndGlyphs">160</text><text x="33.18" y="-2.4" font-size="9.7">°</text><text x="41.99">C</text></g>
<circle cx="104.9" cy="120" r="4.4" fill="#32cd32"/>
<g transform="translate(128.8 124.9) scale(0.84 1)" font-size="15.3"><text textLength="28.88" lengthAdjust="spacingAndGlyphs">180</text><text x="33.18" y="-2.4" font-size="9.7">°</text><text x="41.99">C</text></g>
<circle cx="104.9" cy="139.3" r="4.4" fill="#fa8072"/>
<g transform="translate(128.8 144.2) scale(0.84 1)" font-size="15.3"><text textLength="28.88" lengthAdjust="spacingAndGlyphs">200</text><text x="33.18" y="-2.4" font-size="9.7">°</text><text x="41.99">C</text></g>
<path d="M91.4 157H117.6" stroke="#000" stroke-width="2.6" stroke-dasharray="8 4.1"/>
<text transform="translate(128.6 161.8) scale(0.87 1)" font-size="15.3" textLength="14.10" lengthAdjust="spacingAndGlyphs">fit</text>
</g>
<rect x="750.5" y="121" width="98.4" height="18.1" fill="#6495ed"/>
<rect x="750.5" y="143.6" width="139.9" height="18.1" fill="#6495ed"/>
<rect x="750.5" y="166.2" width="111.4" height="18.1" fill="#6495ed"/>
<rect x="750.5" y="188.8" width="261.2" height="18.1" fill="#6495ed"/>
<rect x="750.5" y="211.4" width="249" height="18.1" fill="#6495ed"/>
<rect x="750.5" y="233.9" width="242.5" height="18.1" fill="#6495ed"/>
<rect x="750.5" y="256.5" width="289.1" height="18.1" fill="#6495ed"/>
<rect x="750.5" y="279.1" width="353.1" height="18.1" fill="#6495ed"/>
<rect x="750.5" y="301.7" width="324.1" height="18.1" fill="#6495ed"/>
<rect x="750.5" y="324.2" width="172.8" height="18.1" fill="#32cd32"/>
<rect x="750.5" y="346.8" width="190.5" height="18.1" fill="#32cd32"/>
<rect x="750.5" y="369.4" width="227.4" height="18.1" fill="#32cd32"/>
<rect x="750.5" y="392" width="254.4" height="18.1" fill="#32cd32"/>
<rect x="750.5" y="414.6" width="280.3" height="18.1" fill="#32cd32"/>
<rect x="750.5" y="437.1" width="269.5" height="18.1" fill="#32cd32"/>
<rect x="750.5" y="459.7" width="308.1" height="18.1" fill="#32cd32"/>
<rect x="750.5" y="482.3" width="342" height="18.1" fill="#32cd32"/>
<rect x="750.5" y="504.9" width="347.9" height="18.1" fill="#32cd32"/>
<rect x="750.5" y="527.4" width="141.3" height="18.1" fill="#fa8072"/>
<rect x="750.5" y="550" width="126.5" height="18.1" fill="#fa8072"/>
<rect x="750.5" y="572.6" width="144.1" height="18.1" fill="#fa8072"/>
<rect x="750.5" y="595.2" width="209.5" height="18.1" fill="#fa8072"/>
<rect x="750.5" y="617.7" width="232.5" height="18.1" fill="#fa8072"/>
<rect x="750.5" y="640.3" width="220.3" height="18.1" fill="#fa8072"/>
<rect x="750.5" y="662.9" width="336.3" height="18.1" fill="#fa8072"/>
<rect x="750.5" y="685.5" width="306.4" height="18.1" fill="#fa8072"/>
<rect x="750.5" y="708.1" width="310.7" height="18.1" fill="#fa8072"/>
<path d="M816.2 130.1H881.8M816.2 126.9v6.4M881.8 126.9v6.4M868.2 152.7H913.1M868.2 149.5v6.4M913.1 149.5v6.4M838.4 175.3H886.1M838.4 172.1v6.4M886.1 172.1v6.4M974.8 197.8H1048.4M974.8 194.6v6.4M1048.4 194.6v6.4M973.1 220.4H1026.2M973.1 217.2v6.4M1026.2 217.2v6.4M967.7 243H1019.4M967.7 239.8v6.4M1019.4 239.8v6.4M984.2 265.6H1095.9M984.2 262.4v6.4M1095.9 262.4v6.4M1072.3 288.1H1135.7M1072.3 284.9v6.4M1135.7 284.9v6.4M1041.6 310.7H1108.4M1041.6 307.5v6.4M1108.4 307.5v6.4M887.2 333.3H960.9M887.2 330.1v6.4M960.9 330.1v6.4M929.9 355.9H952.3M929.9 352.7v6.4M952.3 352.7v6.4M959.7 378.4H997.5M959.7 375.2v6.4M997.5 375.2v6.4M981.6 401H1028M981.6 397.8v6.4M1028 397.8v6.4M1003.2 423.6H1057.8M1003.2 420.4v6.4M1057.8 420.4v6.4M982.8 446.2H1058.1M982.8 443v6.4M1058.1 443v6.4M1030.5 468.8H1086.5M1030.5 465.6v6.4M1086.5 465.6v6.4M1071.7 491.3H1113.8M1071.7 488.1v6.4M1113.8 488.1v6.4M1052.4 513.9H1145.1M1052.4 510.7v6.4M1145.1 510.7v6.4M863.9 536.5H920.2M863.9 533.3v6.4M920.2 533.3v6.4M858.5 559.1H895.8M858.5 555.9v6.4M895.8 555.9v6.4M883.3 581.6H907.7M883.3 578.4v6.4M907.7 578.4v6.4M934.7 604.2H986.2M934.7 601v6.4M986.2 601v6.4M956.9 626.8H1009.5M956.9 623.6v6.4M1009.5 623.6v6.4M939.3 649.4H1002.7M939.3 646.2v6.4M1002.7 646.2v6.4M1057.2 671.9H1117.8M1057.2 668.7v6.4M1117.8 668.7v6.4M1011.2 694.5H1103M1011.2 691.3v6.4M1103 691.3v6.4M1037.3 717.1H1085.4M1037.3 713.9v6.4M1085.4 713.9v6.4" stroke="#000" stroke-width="1.9" fill="none"/>
<rect x="1198.5" y="121" width="30.6" height="18.1" fill="#6495ed"/>
<rect x="1198.5" y="143.6" width="72.6" height="18.1" fill="#6495ed"/>
<rect x="1198.5" y="166.2" width="50.7" height="18.1" fill="#6495ed"/>
<rect x="1198.5" y="188.8" width="228.1" height="18.1" fill="#6495ed"/>
<rect x="1198.5" y="211.4" width="208.2" height="18.1" fill="#6495ed"/>
<rect x="1198.5" y="233.9" width="174.7" height="18.1" fill="#6495ed"/>
<rect x="1198.5" y="256.5" width="249.7" height="18.1" fill="#6495ed"/>
<rect x="1198.5" y="279.1" width="308.6" height="18.1" fill="#6495ed"/>
<rect x="1198.5" y="301.7" width="261.9" height="18.1" fill="#6495ed"/>
<rect x="1198.5" y="324.2" width="134" height="18.1" fill="#32cd32"/>
<rect x="1198.5" y="346.8" width="150.2" height="18.1" fill="#32cd32"/>
<rect x="1198.5" y="369.4" width="182.6" height="18.1" fill="#32cd32"/>
<rect x="1198.5" y="392" width="223" height="18.1" fill="#32cd32"/>
<rect x="1198.5" y="414.6" width="238.9" height="18.1" fill="#32cd32"/>
<rect x="1198.5" y="437.1" width="271.3" height="18.1" fill="#32cd32"/>
<rect x="1198.5" y="459.7" width="293.5" height="18.1" fill="#32cd32"/>
<rect x="1198.5" y="482.3" width="302.9" height="18.1" fill="#32cd32"/>
<rect x="1198.5" y="504.9" width="311.4" height="18.1" fill="#32cd32"/>
<rect x="1198.5" y="527.4" width="84.9" height="18.1" fill="#fa8072"/>
<rect x="1198.5" y="550" width="59" height="18.1" fill="#fa8072"/>
<rect x="1198.5" y="572.6" width="78.9" height="18.1" fill="#fa8072"/>
<rect x="1198.5" y="595.2" width="203.1" height="18.1" fill="#fa8072"/>
<rect x="1198.5" y="617.7" width="206.8" height="18.1" fill="#fa8072"/>
<rect x="1198.5" y="640.3" width="200.5" height="18.1" fill="#fa8072"/>
<rect x="1198.5" y="662.9" width="311.4" height="18.1" fill="#fa8072"/>
<rect x="1198.5" y="685.5" width="273.3" height="18.1" fill="#fa8072"/>
<rect x="1198.5" y="708.1" width="261.9" height="18.1" fill="#fa8072"/>
<path d="M1201.2 130.1H1258.6M1201.2 126.9v6.4M1258.6 126.9v6.4M1251.2 152.7H1291M1251.2 149.5v6.4M1291 149.5v6.4M1227.1 175.3H1272M1227.1 172.1v6.4M1272 172.1v6.4M1379.7 197.8H1474.1M1379.7 194.6v6.4M1474.1 194.6v6.4M1375.7 220.4H1438.3M1375.7 217.2v6.4M1438.3 217.2v6.4M1334.8 243H1411.3M1334.8 239.8v6.4M1411.3 239.8v6.4M1368.9 265.6H1528.7M1368.9 262.4v6.4M1528.7 262.4v6.4M1463 288.1H1552.3M1463 284.9v6.4M1552.3 284.9v6.4M1416.7 310.7H1503.9M1416.7 307.5v6.4M1503.9 307.5v6.4M1288.2 333.3H1377.2M1288.2 330.1v6.4M1377.2 330.1v6.4M1332 355.9H1366.1M1332 352.7v6.4M1366.1 352.7v6.4M1367.5 378.4H1395.6M1367.5 375.2v6.4M1395.6 375.2v6.4M1393.4 401H1451.3M1393.4 397.8v6.4M1451.3 397.8v6.4M1406.7 423.6H1468.4M1406.7 420.4v6.4M1468.4 420.4v6.4M1424.9 446.2H1514.7M1424.9 443v6.4M1514.7 443v6.4M1447.9 468.8H1536.9M1447.9 465.6v6.4M1536.9 465.6v6.4M1475.2 491.3H1528.4M1475.2 488.1v6.4M1528.4 488.1v6.4M1465.6 513.9H1554.2M1465.6 510.7v6.4M1554.2 510.7v6.4M1256.9 536.5H1309.5M1256.9 533.3v6.4M1309.5 533.3v6.4M1235.3 559.1H1279.9M1235.3 555.9v6.4M1279.9 555.9v6.4M1261.2 581.6H1293.9M1261.2 578.4v6.4M1293.9 578.4v6.4M1368.9 604.2H1434.3M1368.9 601v6.4M1434.3 601v6.4M1381.1 626.8H1430.3M1381.1 623.6v6.4M1430.3 623.6v6.4M1367.5 649.4H1432.9M1367.5 646.2v6.4M1432.9 646.2v6.4M1472.7 671.9H1546.9M1472.7 668.7v6.4M1546.9 668.7v6.4M1419.2 694.5H1525.5M1419.2 691.3v6.4M1525.5 691.3v6.4M1431.4 717.1H1490.3M1431.4 713.9v6.4M1490.3 713.9v6.4" stroke="#000" stroke-width="1.9" fill="none"/>
<path d="M749.9 91H1161M749.9 756.2H1161" stroke="#222" stroke-width="1.4" fill="none"/>
<path d="M750.5 91V756.2" stroke="#8c8c8c" stroke-width="1.8" fill="none"/>
<path d="M1160.4 91V756.2" stroke="#8c8c8c" stroke-width="1.8" fill="none"/>
<path d="M1197.9 91H1609.6M1197.9 756.2H1609.6" stroke="#222" stroke-width="1.4" fill="none"/>
<path d="M1198.5 91V756.2" stroke="#222" stroke-width="1.6" fill="none"/>
<path d="M1609 91V756.2" stroke="#444" stroke-width="1.5" fill="none"/>
<g font-family='"IPAPGothic","Liberation Sans","Noto Sans CJK JP",sans-serif' font-size="16.4" fill="#111">
<text x="647.52" y="135.9" text-anchor="end" textLength="30.98" lengthAdjust="spacingAndGlyphs">160</text>
<text x="649.72" y="135.1" font-size="10.4" stroke-width="0.4">°</text>
<text x="656.41" y="135.9" textLength="83.55" lengthAdjust="spacingAndGlyphs">C 5% 135s</text>
<text x="647.52" y="158.5" text-anchor="end" textLength="30.98" lengthAdjust="spacingAndGlyphs">160</text>
<text x="649.72" y="157.7" font-size="10.4" stroke-width="0.4">°</text>
<text x="656.41" y="158.5" textLength="83.55" lengthAdjust="spacingAndGlyphs">C 5% 270s</text>
<text x="647.52" y="181.1" text-anchor="end" textLength="30.98" lengthAdjust="spacingAndGlyphs">160</text>
<text x="649.72" y="180.3" font-size="10.4" stroke-width="0.4">°</text>
<text x="656.41" y="181.1" textLength="83.55" lengthAdjust="spacingAndGlyphs">C 5% 540s</text>
<text x="637.19" y="203.6" text-anchor="end" textLength="30.98" lengthAdjust="spacingAndGlyphs">160</text>
<text x="639.39" y="202.8" font-size="10.4" stroke-width="0.4">°</text>
<text x="646.08" y="203.6" textLength="93.88" lengthAdjust="spacingAndGlyphs">C 10% 135s</text>
<text x="637.19" y="226.2" text-anchor="end" textLength="30.98" lengthAdjust="spacingAndGlyphs">160</text>
<text x="639.39" y="225.4" font-size="10.4" stroke-width="0.4">°</text>
<text x="646.08" y="226.2" textLength="93.88" lengthAdjust="spacingAndGlyphs">C 10% 270s</text>
<text x="637.19" y="248.8" text-anchor="end" textLength="30.98" lengthAdjust="spacingAndGlyphs">160</text>
<text x="639.39" y="248" font-size="10.4" stroke-width="0.4">°</text>
<text x="646.08" y="248.8" textLength="93.88" lengthAdjust="spacingAndGlyphs">C 10% 540s</text>
<text x="637.19" y="271.4" text-anchor="end" textLength="30.98" lengthAdjust="spacingAndGlyphs">160</text>
<text x="639.39" y="270.6" font-size="10.4" stroke-width="0.4">°</text>
<text x="646.08" y="271.4" textLength="93.88" lengthAdjust="spacingAndGlyphs">C 15% 135s</text>
<text x="637.19" y="293.9" text-anchor="end" textLength="30.98" lengthAdjust="spacingAndGlyphs">160</text>
<text x="639.39" y="293.1" font-size="10.4" stroke-width="0.4">°</text>
<text x="646.08" y="293.9" textLength="93.88" lengthAdjust="spacingAndGlyphs">C 15% 270s</text>
<text x="637.19" y="316.5" text-anchor="end" textLength="30.98" lengthAdjust="spacingAndGlyphs">160</text>
<text x="639.39" y="315.7" font-size="10.4" stroke-width="0.4">°</text>
<text x="646.08" y="316.5" textLength="93.88" lengthAdjust="spacingAndGlyphs">C 15% 540s</text>
<text x="647.52" y="339.1" text-anchor="end" textLength="30.98" lengthAdjust="spacingAndGlyphs">180</text>
<text x="649.72" y="338.3" font-size="10.4" stroke-width="0.4">°</text>
<text x="656.41" y="339.1" textLength="83.55" lengthAdjust="spacingAndGlyphs">C 5% 135s</text>
<text x="647.52" y="361.7" text-anchor="end" textLength="30.98" lengthAdjust="spacingAndGlyphs">180</text>
<text x="649.72" y="360.9" font-size="10.4" stroke-width="0.4">°</text>
<text x="656.41" y="361.7" textLength="83.55" lengthAdjust="spacingAndGlyphs">C 5% 270s</text>
<text x="647.52" y="384.2" text-anchor="end" textLength="30.98" lengthAdjust="spacingAndGlyphs">180</text>
<text x="649.72" y="383.4" font-size="10.4" stroke-width="0.4">°</text>
<text x="656.41" y="384.2" textLength="83.55" lengthAdjust="spacingAndGlyphs">C 5% 540s</text>
<text x="637.19" y="406.8" text-anchor="end" textLength="30.98" lengthAdjust="spacingAndGlyphs">180</text>
<text x="639.39" y="406" font-size="10.4" stroke-width="0.4">°</text>
<text x="646.08" y="406.8" textLength="93.88" lengthAdjust="spacingAndGlyphs">C 10% 135s</text>
<text x="637.19" y="429.4" text-anchor="end" textLength="30.98" lengthAdjust="spacingAndGlyphs">180</text>
<text x="639.39" y="428.6" font-size="10.4" stroke-width="0.4">°</text>
<text x="646.08" y="429.4" textLength="93.88" lengthAdjust="spacingAndGlyphs">C 10% 270s</text>
<text x="637.19" y="452" text-anchor="end" textLength="30.98" lengthAdjust="spacingAndGlyphs">180</text>
<text x="639.39" y="451.2" font-size="10.4" stroke-width="0.4">°</text>
<text x="646.08" y="452" textLength="93.88" lengthAdjust="spacingAndGlyphs">C 10% 540s</text>
<text x="637.19" y="474.6" text-anchor="end" textLength="30.98" lengthAdjust="spacingAndGlyphs">180</text>
<text x="639.39" y="473.8" font-size="10.4" stroke-width="0.4">°</text>
<text x="646.08" y="474.6" textLength="93.88" lengthAdjust="spacingAndGlyphs">C 15% 135s</text>
<text x="637.19" y="497.1" text-anchor="end" textLength="30.98" lengthAdjust="spacingAndGlyphs">180</text>
<text x="639.39" y="496.3" font-size="10.4" stroke-width="0.4">°</text>
<text x="646.08" y="497.1" textLength="93.88" lengthAdjust="spacingAndGlyphs">C 15% 270s</text>
<text x="637.19" y="519.7" text-anchor="end" textLength="30.98" lengthAdjust="spacingAndGlyphs">180</text>
<text x="639.39" y="518.9" font-size="10.4" stroke-width="0.4">°</text>
<text x="646.08" y="519.7" textLength="93.88" lengthAdjust="spacingAndGlyphs">C 15% 540s</text>
<text x="647.52" y="542.3" text-anchor="end" textLength="30.98" lengthAdjust="spacingAndGlyphs">200</text>
<text x="649.72" y="541.5" font-size="10.4" stroke-width="0.4">°</text>
<text x="656.41" y="542.3" textLength="83.55" lengthAdjust="spacingAndGlyphs">C 5% 135s</text>
<text x="647.52" y="564.9" text-anchor="end" textLength="30.98" lengthAdjust="spacingAndGlyphs">200</text>
<text x="649.72" y="564.1" font-size="10.4" stroke-width="0.4">°</text>
<text x="656.41" y="564.9" textLength="83.55" lengthAdjust="spacingAndGlyphs">C 5% 270s</text>
<text x="647.52" y="587.4" text-anchor="end" textLength="30.98" lengthAdjust="spacingAndGlyphs">200</text>
<text x="649.72" y="586.6" font-size="10.4" stroke-width="0.4">°</text>
<text x="656.41" y="587.4" textLength="83.55" lengthAdjust="spacingAndGlyphs">C 5% 540s</text>
<text x="637.19" y="610" text-anchor="end" textLength="30.98" lengthAdjust="spacingAndGlyphs">200</text>
<text x="639.39" y="609.2" font-size="10.4" stroke-width="0.4">°</text>
<text x="646.08" y="610" textLength="93.88" lengthAdjust="spacingAndGlyphs">C 10% 135s</text>
<text x="637.19" y="632.6" text-anchor="end" textLength="30.98" lengthAdjust="spacingAndGlyphs">200</text>
<text x="639.39" y="631.8" font-size="10.4" stroke-width="0.4">°</text>
<text x="646.08" y="632.6" textLength="93.88" lengthAdjust="spacingAndGlyphs">C 10% 270s</text>
<text x="637.19" y="655.2" text-anchor="end" textLength="30.98" lengthAdjust="spacingAndGlyphs">200</text>
<text x="639.39" y="654.4" font-size="10.4" stroke-width="0.4">°</text>
<text x="646.08" y="655.2" textLength="93.88" lengthAdjust="spacingAndGlyphs">C 10% 540s</text>
<text x="637.19" y="677.7" text-anchor="end" textLength="30.98" lengthAdjust="spacingAndGlyphs">200</text>
<text x="639.39" y="676.9" font-size="10.4" stroke-width="0.4">°</text>
<text x="646.08" y="677.7" textLength="93.88" lengthAdjust="spacingAndGlyphs">C 15% 135s</text>
<text x="637.19" y="700.3" text-anchor="end" textLength="30.98" lengthAdjust="spacingAndGlyphs">200</text>
<text x="639.39" y="699.5" font-size="10.4" stroke-width="0.4">°</text>
<text x="646.08" y="700.3" textLength="93.88" lengthAdjust="spacingAndGlyphs">C 15% 270s</text>
<text x="637.19" y="722.9" text-anchor="end" textLength="30.98" lengthAdjust="spacingAndGlyphs">200</text>
<text x="639.39" y="722.1" font-size="10.4" stroke-width="0.4">°</text>
<text x="646.08" y="722.9" textLength="93.88" lengthAdjust="spacingAndGlyphs">C 15% 540s</text>
<text x="750.5" y="779.2" text-anchor="middle" font-size="16" textLength="24.39" lengthAdjust="spacingAndGlyphs">1.0</text>
<text x="1198.5" y="779.2" text-anchor="middle" font-size="16" textLength="20.16" lengthAdjust="spacingAndGlyphs">10</text>
<text x="818.8" y="779.2" text-anchor="middle" font-size="16" textLength="24.39" lengthAdjust="spacingAndGlyphs">1.5</text>
<text x="1266.9" y="779.2" text-anchor="middle" font-size="16" textLength="20.16" lengthAdjust="spacingAndGlyphs">15</text>
<text x="887.1" y="779.2" text-anchor="middle" font-size="16" textLength="24.39" lengthAdjust="spacingAndGlyphs">2.0</text>
<text x="1335.3" y="779.2" text-anchor="middle" font-size="16" textLength="20.16" lengthAdjust="spacingAndGlyphs">20</text>
<text x="955.5" y="779.2" text-anchor="middle" font-size="16" textLength="24.39" lengthAdjust="spacingAndGlyphs">2.5</text>
<text x="1403.8" y="779.2" text-anchor="middle" font-size="16" textLength="20.16" lengthAdjust="spacingAndGlyphs">25</text>
<text x="1023.8" y="779.2" text-anchor="middle" font-size="16" textLength="24.39" lengthAdjust="spacingAndGlyphs">3.0</text>
<text x="1472.2" y="779.2" text-anchor="middle" font-size="16" textLength="20.16" lengthAdjust="spacingAndGlyphs">30</text>
<text x="1092.1" y="779.2" text-anchor="middle" font-size="16" textLength="24.39" lengthAdjust="spacingAndGlyphs">3.5</text>
<text x="1540.6" y="779.2" text-anchor="middle" font-size="16" textLength="20.16" lengthAdjust="spacingAndGlyphs">35</text>
<text x="1160.4" y="779.2" text-anchor="middle" font-size="16" textLength="24.39" lengthAdjust="spacingAndGlyphs">4.0</text>
<text x="1609" y="779.2" text-anchor="middle" font-size="16" textLength="20.16" lengthAdjust="spacingAndGlyphs">40</text>
<path d="M750.5 130.1h-5M1198.5 130.1h-5M750.5 152.7h-5M1198.5 152.7h-5M750.5 175.3h-5M1198.5 175.3h-5M750.5 197.8h-5M1198.5 197.8h-5M750.5 220.4h-5M1198.5 220.4h-5M750.5 243h-5M1198.5 243h-5M750.5 265.6h-5M1198.5 265.6h-5M750.5 288.1h-5M1198.5 288.1h-5M750.5 310.7h-5M1198.5 310.7h-5M750.5 333.3h-5M1198.5 333.3h-5M750.5 355.9h-5M1198.5 355.9h-5M750.5 378.4h-5M1198.5 378.4h-5M750.5 401h-5M1198.5 401h-5M750.5 423.6h-5M1198.5 423.6h-5M750.5 446.2h-5M1198.5 446.2h-5M750.5 468.8h-5M1198.5 468.8h-5M750.5 491.3h-5M1198.5 491.3h-5M750.5 513.9h-5M1198.5 513.9h-5M750.5 536.5h-5M1198.5 536.5h-5M750.5 559.1h-5M1198.5 559.1h-5M750.5 581.6h-5M1198.5 581.6h-5M750.5 604.2h-5M1198.5 604.2h-5M750.5 626.8h-5M1198.5 626.8h-5M750.5 649.4h-5M1198.5 649.4h-5M750.5 671.9h-5M1198.5 671.9h-5M750.5 694.5h-5M1198.5 694.5h-5M750.5 717.1h-5M1198.5 717.1h-5M750.5 756.2v5M1198.5 756.2v5M818.8 756.2v5M1266.9 756.2v5M887.1 756.2v5M1335.3 756.2v5M955.5 756.2v5M1403.8 756.2v5M1023.8 756.2v5M1472.2 756.2v5M1092.1 756.2v5M1540.6 756.2v5M1160.4 756.2v5M1609 756.2v5" stroke="#222" stroke-width="1.2"/>
<text x="898.2" y="803" font-size="20.5" textLength="114.4" lengthAdjust="spacingAndGlyphs">MOE (GPa)</text>
<text x="1343.2" y="803" font-size="20.5" textLength="121.2" lengthAdjust="spacingAndGlyphs">MOR (MPa)</text>
<text transform="translate(594.5 423) rotate(-90)" x="-126.4" font-size="20.5" textLength="252.8" lengthAdjust="spacingAndGlyphs">Manufacture conditions</text>
<rect x="1495" y="98" width="106.5" height="71.7" rx="3" fill="#fff" stroke="#ccc" stroke-width="1"/>
<rect x="1501.5" y="104.9" width="30.5" height="11" fill="#6495ed"/>
<text x="1543.5" y="116.2" font-size="16" textLength="30.23" lengthAdjust="spacingAndGlyphs">160</text>
<text x="1576.5" y="116.9" font-size="12.5" stroke-width="0.3">°</text>
<text x="1584.3" y="116.2" font-size="16">C</text>
<rect x="1501.5" y="127.7" width="30.5" height="11" fill="#32cd32"/>
<text x="1543.5" y="139" font-size="16" textLength="30.23" lengthAdjust="spacingAndGlyphs">180</text>
<text x="1576.5" y="139.7" font-size="12.5" stroke-width="0.3">°</text>
<text x="1584.3" y="139" font-size="16">C</text>
<rect x="1501.5" y="150.5" width="30.5" height="11" fill="#fa8072"/>
<text x="1543.5" y="161.8" font-size="16" textLength="30.23" lengthAdjust="spacingAndGlyphs">200</text>
<text x="1576.5" y="162.5" font-size="12.5" stroke-width="0.3">°</text>
<text x="1584.3" y="161.8" font-size="16">C</text>
</g>
<g font-family='"Liberation Sans","DejaVu Sans",sans-serif' font-weight="bold" fill="#000" class="lbl">
<text transform="translate(-0.5 63.5) scale(1.115 1)" font-size="35.6">(</text>
<text transform="translate(13.8 65.4) scale(0.875 1)" font-size="38.4">a</text>
<text transform="translate(35.2 63.5) scale(1.152 1)" font-size="35.6">)</text>
<text transform="translate(670.7 63.6) scale(1.113 1)" font-size="35.3">(</text>
<text transform="translate(684.6 65) scale(1.007 1)" font-size="41.1">b</text>
<text transform="translate(709.3 63.6) scale(1.201 1)" font-size="35.3">)</text>
</g>
</svg></body></html>
